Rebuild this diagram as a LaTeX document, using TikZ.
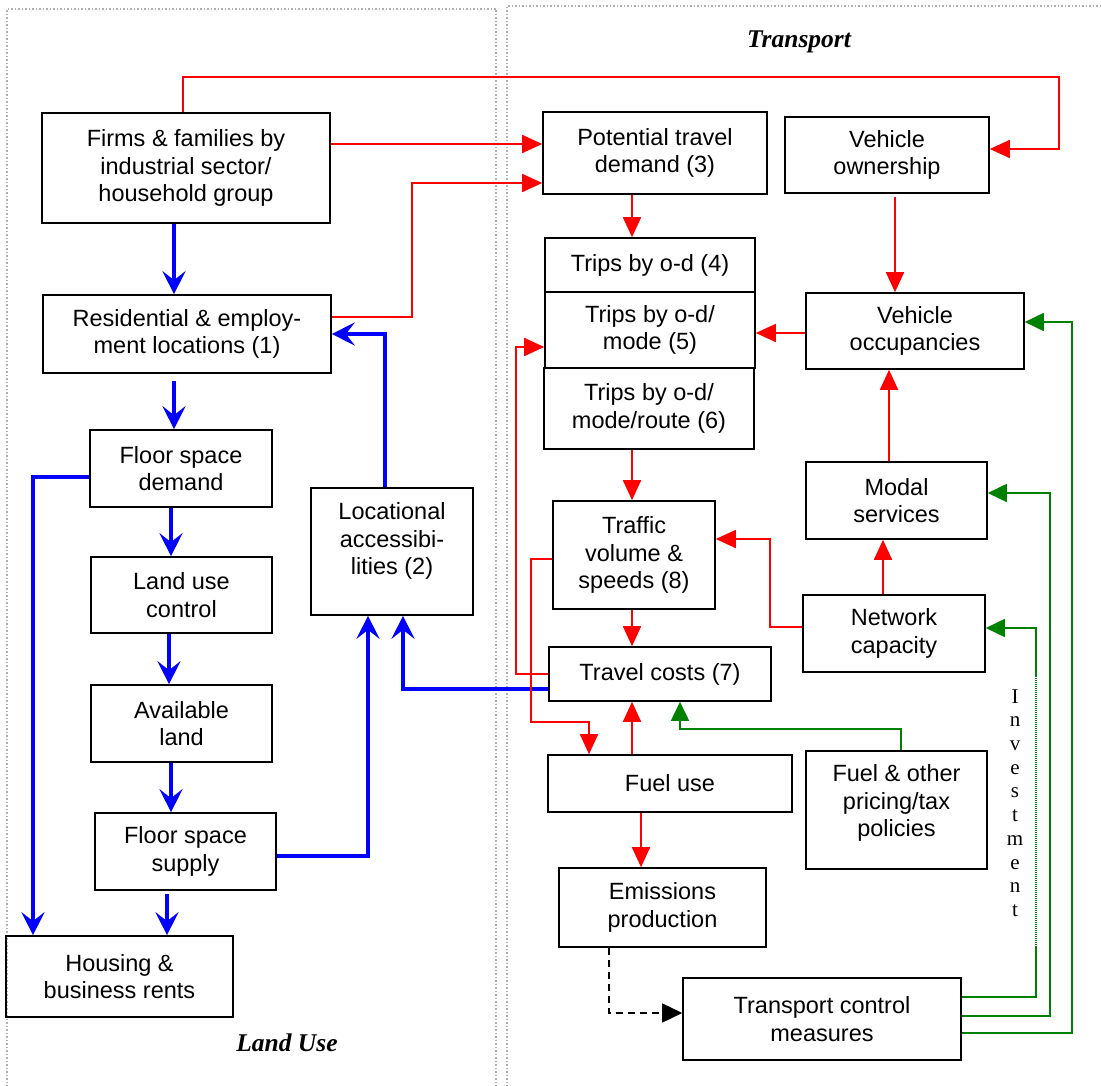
\documentclass[tikz,border=0pt]{standalone}
\usepackage{fontspec}
\setmainfont{Liberation Sans}
\newfontfamily\titlefont{Liberation Serif}
\usetikzlibrary{arrows.meta}
\definecolor{flowred}{RGB}{255,0,0}
\definecolor{flowblue}{RGB}{0,0,255}
\definecolor{flowgreen}{RGB}{0,128,0}
\definecolor{framegray}{RGB}{175,175,175}
\begin{document}
\begin{tikzpicture}[x=1pt,y=-1pt,
  box/.style={draw=black, line width=1.6pt, inner sep=0pt, align=center,
    font=\fontsize{23.5}{27.5}\selectfont},
  txt/.style={inner sep=0pt, align=center, font=\fontsize{23.5}{27.5}\selectfont},
  rline/.style={draw=flowred, line width=1.8pt},
  rarr/.style={rline, -{Triangle[length=20pt,width=18pt]}},
  barr/.style={draw=flowblue, line width=4pt, -{Stealth[length=23pt,width=23pt,inset=9pt]}},
  gline/.style={draw=flowgreen, line width=1.8pt},
  garr/.style={gline, -{Triangle[length=19pt,width=18pt]}},
  darr/.style={draw=black, line width=1.6pt, dash pattern=on 7pt off 5pt,
    -{Triangle[length=20pt,width=19pt]}},
  panel/.style={draw=framegray, line width=1.5pt, dash pattern=on 1.5pt off 2pt},
  title/.style={inner sep=0pt, font=\titlefont\bfseries\itshape\fontsize{25.5}{30}\selectfont}
]
\useasboundingbox (0,0) rectangle (1101,1086);

% panel frames
\draw[panel] (7,1090) -- (7,9) -- (496,9) -- (496,1090);
\draw[panel] (507,1090) -- (507,6) -- (1105,6);

% panel titles
\node[title] (ttransport) at (799,42) {Transport};
\node[title] (tlanduse) at (287,1043) {Land Use};

% land use boxes
\node[box, minimum width=288pt, minimum height=110pt] (firms) at (186,168)
  {Firms \& families by\\industrial sector/\\household group};
\node[box, minimum width=288pt, minimum height=78pt] (res) at (187,334)
  {Residential \& employ-\\ment locations (1)};
\node[box, minimum width=182pt, minimum height=77pt] (fsd) at (181,468.5)
  {Floor space\\demand};
\node[box, minimum width=181pt, minimum height=76pt] (luc) at (181.5,595)
  {Land use\\control};
\node[box, minimum width=181pt, minimum height=77pt] (avl) at (181.5,723.5)
  {Available\\land};
\node[box, minimum width=162pt, minimum height=127pt] (loc) at (392,551.5) {};
\node[txt] (loct) at (392,541) {Locational\\accessibi-\\lities (2)};
\node[box, minimum width=181pt, minimum height=77pt] (fss) at (185.5,851.5)
  {Floor space\\supply};
\node[box, minimum width=227pt, minimum height=81pt] (hbr) at (119.5,976.5)
  {Housing \&\\business rents};

% transport boxes
\node[box, minimum width=224pt, minimum height=82pt] (ptd) at (655,153)
  {Potential travel\\demand (3)};
\node[box, minimum width=204pt, minimum height=76pt] (vow) at (887,155)
  {Vehicle\\ownership};
\node[box, minimum width=210pt, minimum height=54pt] (t4) at (650,265)
  {Trips by o-d (4)};
\node[box, minimum width=210pt, minimum height=76pt] (t5) at (650,330)
  {Trips by o-d/\\mode (5)};
\node[box, minimum width=210pt, minimum height=81pt] (t6) at (649,408.5)
  {Trips by o-d/\\mode/route (6)};
\node[box, minimum width=218pt, minimum height=76pt] (voc) at (915,331)
  {Vehicle\\occupancies};
\node[box, minimum width=181pt, minimum height=77pt] (mod) at (896.5,500.5)
  {Modal\\services};
\node[box, minimum width=162pt, minimum height=108pt] (tvs) at (634,555)
  {Traffic\\volume \&\\speeds (8)};
\node[box, minimum width=222pt, minimum height=54pt] (tc) at (660,674)
  {Travel costs (7)};
\node[box, minimum width=182pt, minimum height=77pt] (net) at (894,633.5)
  {Network\\capacity};
\node[box, minimum width=244pt, minimum height=57pt] (fuel) at (670,783.5)
  {Fuel use};
\node[box, minimum width=181pt, minimum height=118pt] (fop) at (896.5,810) {};
\node[txt] (fopt) at (896.5,803) {Fuel \& other\\pricing/tax\\policies};
\node[box, minimum width=207pt, minimum height=79pt] (emi) at (662.5,907.5)
  {Emissions\\production};
\node[box, minimum width=278pt, minimum height=82pt] (tcm) at (822,1019)
  {Transport control\\measures};

% investment label
\node[inner sep=0pt, align=center, font=\titlefont\fontsize{21}{23.7}\selectfont]
  (invest) at (1015,803) {I\\n\\v\\e\\s\\t\\m\\e\\n\\t};

% land use flows (blue)
\draw[barr] (firms.south -| 174,0) -- (res.north -| 174,0);
\draw[barr] (loc.north -| 385,0) |- (res.east |- 0,334);
\draw[barr, shorten <=7pt] (res.south -| 174,0) -- (fsd.north -| 174,0);
\draw[barr] (fsd.west |- 0,477) -| (hbr.north -| 33,0);
\draw[barr] (fsd.south -| 171,0) -- (luc.north -| 171,0);
\draw[barr] (luc.south -| 169,0) -- (avl.north -| 169,0);
\draw[barr] (avl.south -| 171,0) -- (fss.north -| 171,0);
\draw[barr, shorten <=3pt] (fss.south -| 167,0) -- (hbr.north -| 167,0);
\draw[barr] (fss.east |- 0,856) -| (loc.south -| 368,0);
\draw[barr] (tc.west |- 0,689) -| (loc.south -| 403,0);

% transport flows (red)
\draw[rarr] (firms.north -| 183,0) |- (1059,77) |- (vow.east |- 0,149);
\draw[rarr] (firms.east |- 0,144) -- (ptd.west |- 0,144);
\draw[rarr] (res.east |- 0,317) -| (412,183) -- (ptd.west |- 0,183);
\draw[rarr] (ptd.south -| 632,0) -- (t4.north -| 632,0);
\draw[rarr, shorten <=3pt] (vow.south -| 895,0) -- (voc.north -| 895,0);
\draw[rarr] (voc.west |- 0,333) -- (t5.east |- 0,333);
\draw[rarr] (mod.north -| 889,0) -- (voc.south -| 889,0);
\draw[rarr] (t6.south -| 632,0) -- (tvs.north -| 632,0);
\draw[rarr] (net.west |- 0,627) -| (770,539) -- (tvs.east |- 0,539);
\draw[rarr] (net.north -| 883,0) -- (mod.south -| 883,0);
\draw[rarr] (tvs.south -| 632,0) -- (tc.north -| 632,0);
\draw[rarr] (tc.west |- 0,674) -| (516,347) -- (t5.west |- 0,347);
\draw[rarr] (tvs.west |- 0,559) -| (531,722) -| (fuel.north -| 589,0);
\draw[rarr] (fuel.north -| 632,0) -- (tc.south -| 632,0);
\draw[rarr] (fuel.south -| 641,0) -- (emi.north -| 641,0);

% policy and investment flows (green)
\draw[garr] (fop.north -| 901,0) |- (680,729) -- (tc.south -| 680,0);
\coordinate (invlo) at (1036,947);
\coordinate (invhi) at (1036,677);
\draw[gline] (tcm.east |- 0,997) -| (invlo);
\draw[gline, dash pattern=on 1pt off 1pt, line width=1.4pt] (invlo) -- (invhi);
\draw[garr] (invhi) |- (net.east |- 0,628);
\draw[garr] (tcm.east |- 0,1016) -| (1050,493) -- (mod.east |- 0,493);
\draw[garr] (tcm.east |- 0,1033) -| (1072,322) -- (voc.east |- 0,322);

% emissions feedback (dashed)
\draw[darr] (emi.south -| 609,0) |- (tcm.west |- 0,1013);
\end{tikzpicture}
\end{document}
